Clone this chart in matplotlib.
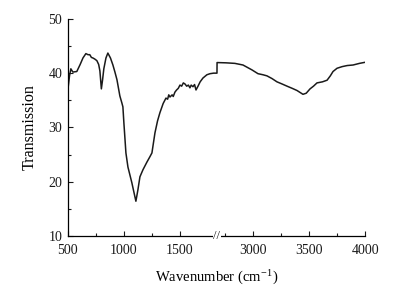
import numpy as np
import matplotlib
matplotlib.use("Agg")
import matplotlib.pyplot as plt
import matplotlib.transforms as mtransforms

plt.rcParams['font.family'] = ['Liberation Serif', 'DejaVu Serif']
plt.rcParams['mathtext.fontset'] = 'stix'

# Left segment (500 - 1830 cm-1)
wn_left = [500, 515, 527, 545, 580, 610, 635, 661, 680, 696, 710, 723, 740, 759, 775,
           786, 799, 810, 821, 840, 857, 880, 902, 920, 938, 964, 982, 991, 1000, 1018,
           1036, 1071, 1090, 1107, 1125, 1143, 1170, 1205, 1232, 1250, 1277, 1300, 1321,
           1350, 1375, 1390, 1400, 1411, 1430, 1440, 1455, 1470, 1485, 1500, 1515, 1530,
           1545, 1560, 1575, 1589, 1600, 1616, 1630, 1643, 1661, 1680, 1705, 1740, 1768,
           1800, 1830]
tr_left = [36.9, 39.5, 40.8, 40.2, 40.3, 41.6, 42.8, 43.6, 43.4, 43.4, 42.9, 42.8, 42.6, 42.3, 41.6,
           40.4, 37.1, 38.8, 40.8, 42.8, 43.7, 42.8, 41.5, 40.2, 38.8, 35.8, 34.5, 33.8, 30.8, 25.3,
           22.7, 19.8, 18.0, 16.4, 18.5, 20.9, 22.2, 23.6, 24.6, 25.3, 29.0, 31.2, 32.7,
           34.4, 35.4, 35.2, 36.0, 35.6, 36.0, 35.7, 36.5, 36.9, 37.2, 37.8, 37.6, 38.2,
           38.0, 37.6, 37.8, 37.3, 37.8, 37.5, 37.9, 36.9, 37.6, 38.4, 39.1, 39.7, 39.9,
           40.0, 40.0]

# Right segment (2680 - 4000 cm-1)
wn_right = [2680, 2760, 2839, 2911, 2991, 3045, 3090, 3125, 3170, 3214, 3260, 3304, 3350,
            3393, 3446, 3475, 3509, 3540, 3571, 3620, 3661, 3690, 3714, 3750, 3795, 3840,
            3893, 3950, 4000]
tr_right = [41.95, 41.9, 41.8, 41.5, 40.6, 39.9, 39.7, 39.5, 39.0, 38.4, 38.0, 37.6, 37.2,
            36.8, 36.1, 36.3, 37.1, 37.6, 38.2, 38.4, 38.7, 39.5, 40.3, 40.9, 41.2, 41.4,
            41.5, 41.8, 42.0]

xticks_major = [500, 1000, 1500, 3000, 3500, 4000]
xticks_minor = [750, 1250, 2750, 3250, 3750]
yticks_major = [10, 20, 30, 40, 50]
yticks_minor = [15, 25, 35, 45]

B1, B2 = 1830.0, 2680.0
G = B2 - B1
E = 1e-3


def fwd(x):
    x = np.asarray(x, dtype=float)
    return np.where(x <= B1, x,
                    np.where(x >= B2, x - G * (1 - E), B1 + (x - B1) * E))


def inv(u):
    u = np.asarray(u, dtype=float)
    return np.where(u <= B1, u,
                    np.where(u >= B1 + G * E, u + G * (1 - E), B1 + (u - B1) / E))


wn = wn_left + wn_right
tr = tr_left + tr_right

fig = plt.figure(figsize=(3.99, 2.86), dpi=100)
ax = fig.add_axes([0.170, 0.175, 0.745, 0.759])
ax.set_xscale('function', functions=(fwd, inv))
ax.plot(wn, tr, color='#1a1a1a', lw=1.1)

ax.set_xlim(500, 4000)
ax.set_ylim(10, 50)
ax.set_xticks(xticks_major)
ax.set_xticks(xticks_minor, minor=True)
ax.set_xticklabels([str(v) for v in xticks_major])
ax.set_yticks(yticks_major)
ax.set_yticks(yticks_minor, minor=True)
ax.set_yticklabels([str(v) for v in yticks_major])

for s in ['top', 'right']:
    ax.spines[s].set_visible(False)
for s in ['left', 'bottom']:
    ax.spines[s].set_linewidth(0.9)
ax.tick_params(which='both', direction='in', top=False, right=False, width=0.8,
               labelsize=10, colors='#1a1a1a')
ax.tick_params(which='major', length=3.5)
ax.tick_params(axis='x', which='major', pad=6)
ax.tick_params(axis='y', which='major', pad=4)
ax.tick_params(which='minor', length=2)

ax.set_xlabel('Wavenumber (cm$^{\\mathregular{-1}}$)', fontsize=10.5, labelpad=7)
ax.set_ylabel('Transmission', fontsize=11.5, labelpad=8)

trans = mtransforms.blended_transform_factory(ax.transData, ax.transAxes)
ax.text(B1, 0.0, '//', transform=trans, ha='center', va='center', fontsize=9,
        color='#1a1a1a', clip_on=False,
        bbox=dict(facecolor='white', edgecolor='none', pad=0.2))

fig.savefig('out.png', dpi=100)
